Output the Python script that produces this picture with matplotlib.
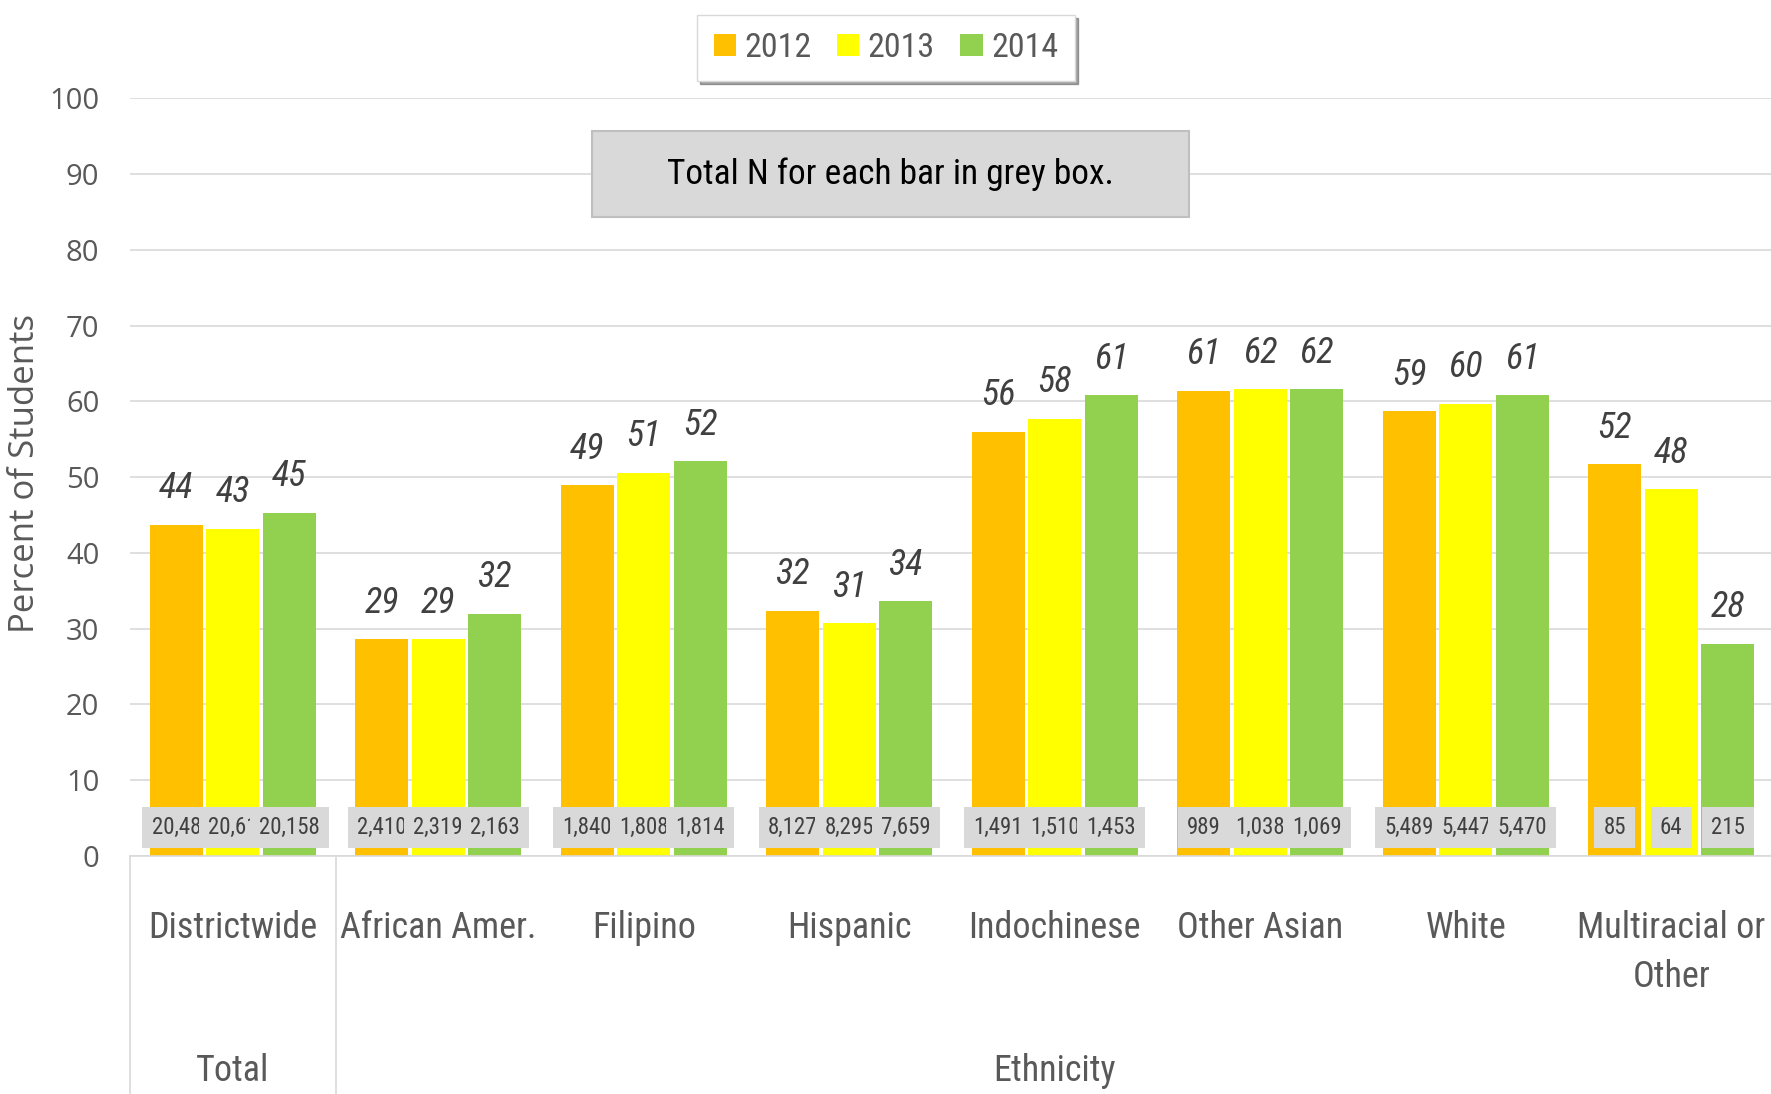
"""Percent of students by ethnicity, 2012-2014, with N per bar in grey boxes."""
import matplotlib
matplotlib.use("Agg")
import matplotlib.pyplot as plt
import numpy as np
from matplotlib import font_manager
from matplotlib.patches import Rectangle
from matplotlib.transforms import blended_transform_factory

# ---- data -------------------------------------------------------------
categories = ["Districtwide", "African Amer.", "Filipino", "Hispanic",
              "Indochinese", "Other Asian", "White", "Multiracial or\nOther"]
years = ["2012", "2013", "2014"]
pct_2012 = [43.7, 28.6, 48.9, 32.4, 56.0, 61.4, 58.7, 51.7]
pct_2013 = [43.2, 28.6, 50.6, 30.7, 57.7, 61.6, 59.7, 48.4]
pct_2014 = [45.3, 32.0, 52.1, 33.6, 60.8, 61.6, 60.8, 28.0]
n_2012 = ["20,48", "2,410", "1,840", "8,127", "1,491", "989", "5,489", "85"]
n_2013 = ["20,61", "2,319", "1,808", "8,295", "1,510", "1,038", "5,447", "64"]
n_2014 = ["20,158", "2,163", "1,814", "7,659", "1,453", "1,069", "5,470", "215"]
groups = [("Total", 0, 0), ("Ethnicity", 1, 7)]

COLORS = ["#FFC000", "#FFFF00", "#92D050"]
GRID = "#D9D9D9"
TXT = "#595959"

names = {f.name for f in font_manager.fontManager.ttflist}
COND = next((n for n in ["Roboto Condensed", "Liberation Sans Narrow",
                         "Open Sans Condensed", "DejaVu Sans"] if n in names),
            "DejaVu Sans")
TICKF = "Open Sans" if "Open Sans" in names else "DejaVu Sans"

W, H = 1771, 1094
fig = plt.figure(figsize=(W / 100, H / 100), dpi=100)
ax = fig.add_axes([130 / W, 238 / H, 1644 / W, 757.7 / H])

x = np.arange(len(categories))
step, bw = 0.275, 0.258
series = [pct_2012, pct_2013, pct_2014]
nlabels = [n_2012, n_2013, n_2014]
for i, (vals, ns) in enumerate(zip(series, nlabels)):
    xs = x + (i - 1) * step
    ax.bar(xs, vals, bw, color=COLORS[i], label=years[i], zorder=2)
    for xi, v, n in zip(xs, vals, ns):
        ax.annotate(f"{v:.0f}", (xi, v), xytext=(0, 19), textcoords="offset points",
                    ha="center", va="baseline", fontsize=26, style="italic",
                    color="#404040", family=COND)
        ax.text(xi, 3.8, n, ha="center", va="center", fontsize=16.5, color="#404040",
                family=COND, zorder=3,
                bbox=dict(boxstyle="square,pad=0.4", fc="#D9D9D9", ec="none"))

ax.set_xlim(-0.5, 7.5)
ax.set_ylim(0, 100)
ax.set_yticks(np.arange(0, 101, 10))
ax.yaxis.grid(True, color=GRID, lw=1.2, zorder=0)
ax.set_axisbelow(True)
for s in ["top", "right", "left"]:
    ax.spines[s].set_visible(False)
ax.spines["bottom"].set_color(GRID)
ax.spines["bottom"].set_linewidth(1.2)
ax.tick_params(axis="y", length=0, pad=22, labelsize=21, labelcolor=TXT)
for lab in ax.get_yticklabels():
    lab.set_family(TICKF)
ax.set_xticks([])

# multi-level category axis
tr = blended_transform_factory(ax.transData, ax.transAxes)
for xi, c in zip(x, categories):
    ax.text(xi, -0.071, c, transform=tr, ha="center", va="top", fontsize=26,
            color=TXT, family=COND, linespacing=1.48)
for name, a, b in groups:
    ax.text((a + b) / 2, -0.284, name, transform=tr, ha="center", va="center",
            fontsize=26, color=TXT, family=COND)
for xv in [-0.5, 0.5]:
    ax.plot([xv, xv], [0, -0.32], transform=tr, color=GRID, lw=1.2, clip_on=False)

fig.text(25 / W, 0.567, "Percent of Students", rotation=90, ha="center", va="center",
         fontsize=25, color=TXT, family=TICKF)

# note box
fig.patches.append(Rectangle((592 / W, 1 - 217 / H), 597 / W, 86 / H,
                             transform=fig.transFigure, fc="#D9D9D9", ec="#BFBFBF",
                             lw=1.5, zorder=5))
fig.text(890 / W, 1 - 174 / H, "Total N for each bar in grey box.", ha="center",
         va="center", fontsize=25.5, color="black", family=COND, zorder=6)

leg = fig.legend(loc="center", bbox_to_anchor=(886 / W, 1 - 48 / H), ncol=3,
                 frameon=True, fancybox=False, shadow=True, edgecolor=GRID,
                 handlelength=0.65, handleheight=0.65, handletextpad=0.25,
                 columnspacing=0.75, borderpad=0.5, borderaxespad=0.4,
                 prop={"family": COND, "size": 24.5})
for t in leg.get_texts():
    t.set_color(TXT)

fig.savefig("out.png", dpi=100)
